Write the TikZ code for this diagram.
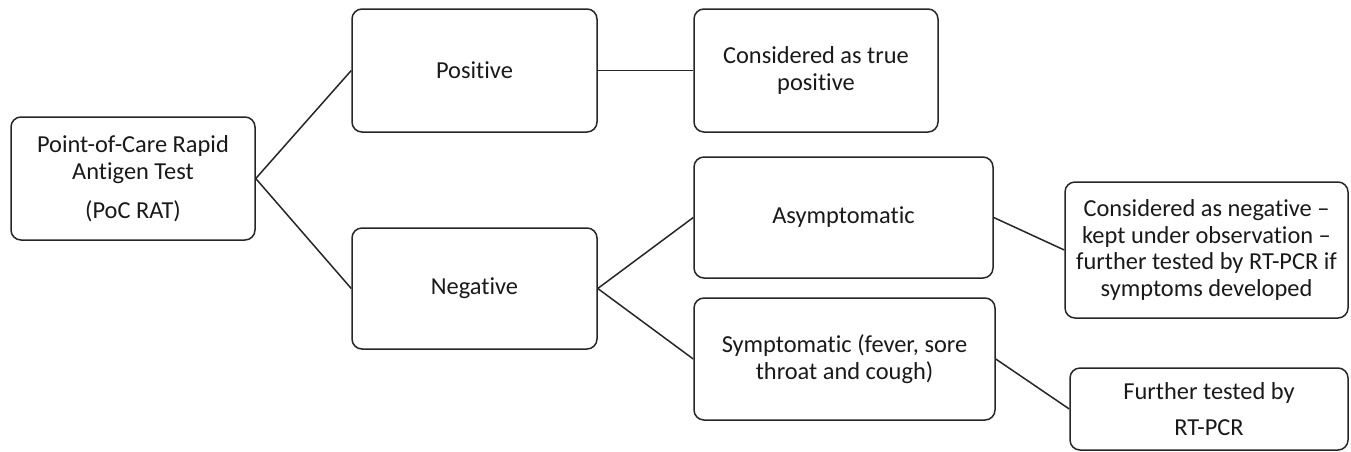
\documentclass[tikz,border=0pt]{standalone}
\usepackage{fontspec}
\setmainfont[Ligatures=NoCommon]{Carlito}
\begin{document}
\begin{tikzpicture}[x=1pt,y=-1pt,
  box/.style={draw=black!85, line width=1.5pt, rounded corners=10pt, align=center,
    inner sep=0pt, text=black!90, font=\fontsize{24.4}{26.7}\selectfont},
  link/.style={line width=1.5pt, black!85}]
  \useasboundingbox (0,0) rectangle (1351,451);
  % Boîtes
  \node [box, minimum width=244pt, minimum height=123pt] (rat) at (133,178.5)
    {Point-of-Care Rapid\\Antigen Test\\[12.3pt](PoC RAT)};
  \node [box, minimum width=245pt, minimum height=123pt] (pos) at (474.5,70.5) {Positive};
  \node [box, minimum width=244pt, minimum height=123pt] (truepos) at (816,70.5)
    {Considered as true\\positive};
  \node [box, minimum width=245pt, minimum height=121pt] (neg) at (474.5,288.5) {Negative};
  \node [box, minimum width=299pt, minimum height=121pt] (asym) at (843.5,217.5) {Asymptomatic};
  \node [box, minimum width=301pt, minimum height=122pt] (sym) at (844.5,359)
    {Symptomatic (fever, sore\\throat and cough)};
  \node [box, minimum width=283pt, minimum height=136pt] (obs) at (1206.5,250)
    {Considered as negative --\\kept under observation --\\further tested by RT-PCR if\\symptoms developed};
  \node [box, minimum width=278pt, minimum height=82pt] (pcr) at (1209,409)
    {Further tested by\\[9.3pt]RT-PCR};
  % Liaisons
  \draw [link] (rat.east) -- (pos.west);
  \draw [link] (rat.east) -- (neg.west);
  \draw [link] (pos.east) -- (truepos.west);
  \draw [link] (neg.east) -- (asym.west);
  \draw [link] (neg.east) -- (sym.west);
  \draw [link] (asym.east) -- (obs.west);
  \draw [link] (sym.east) -- (pcr.west);
\end{tikzpicture}
\end{document}
